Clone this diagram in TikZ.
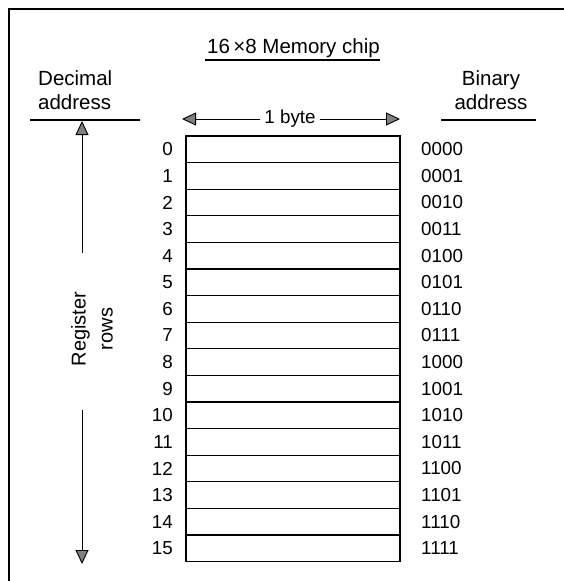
\documentclass[tikz,border=0pt]{standalone}
\usepackage{fontspec}
\setmainfont{Liberation Sans}
\usetikzlibrary{arrows.meta}
\begin{document}
\begin{tikzpicture}[x=1pt,y=-1pt,
  lbl/.style={font=\fontsize{20.5}{24}\selectfont, inner sep=0pt},
  num/.style={font=\fontsize{18.8}{22}\selectfont, inner sep=0pt},
  rowbox/.style={draw, line width=1.1pt, minimum width=214pt, minimum height=26.6pt, inner sep=0pt},
  frame/.style={line width=1.4pt},
  rule/.style={line width=1.1pt},
  tip/.style={-{Triangle[length=14pt,width=13pt,fill=black!50]}, line width=0.9pt}
]
\useasboundingbox (0,0) rectangle (564,581);
% frame
\coordinate (fbl) at (9,581);
\coordinate (ftl) at (9,9);
\coordinate (ftr) at (564,9);
\draw[frame] (fbl) -- (ftl) -- (ftr);
% title
\node[lbl, anchor=base west] (title) at (207,53) {16\,×8 Memory chip};
\coordinate (tul) at (205,60);
\coordinate (tur) at (380,60);
\draw[rule] (tul) -- (tur);
% decimal header
\node[lbl, anchor=base west, align=left] (dec) at (38,109) {Decimal\\address};
\coordinate (dul) at (30,120);
\coordinate (dur) at (140,120);
\draw[rule] (dul) -- (dur);
% binary header
\node[lbl, anchor=base, align=center] (bin) at (491,109) {Binary\\address};
\coordinate (bul) at (441,120);
\coordinate (bur) at (536,120);
\draw[rule] (bul) -- (bur);
% 1 byte arrow
\node[num] (byte) at (290,119) {1 byte};
\coordinate (bl) at (182,119);
\coordinate (br) at (400,119);
\draw[tip] ([xshift=-4pt]byte.west) -- (bl);
\draw[tip] ([xshift=4pt]byte.east) -- (br);
% rows
\foreach \i/\b in {0/0000,1/0001,2/0010,3/0011,4/0100,5/0101,6/0110,7/0111,8/1000,9/1001,10/1010,11/1011,12/1100,13/1101,14/1110,15/1111}{
  \node[rowbox] (r\i) at (293,{136+26.6*(\i+0.5)}) {};
  \node[num, anchor=east] (d\i) at (173,{136+26.6*(\i+0.5)}) {\i};
  \node[num, anchor=west] (b\i) at (421,{136+26.6*(\i+0.5)}) {\b};
}
% register rows
\node[lbl, rotate=90, align=center, font=\fontsize{20}{27}\selectfont] (reg) at (92,329) {Register\\rows};
\coordinate (at) at (82,121);
\coordinate (ab) at (82,564);
\coordinate (as) at (82,253);
\coordinate (ae) at (82,410);
\draw[tip] (as) -- (at);
\draw[tip] (ae) -- (ab);
\end{tikzpicture}
\end{document}
